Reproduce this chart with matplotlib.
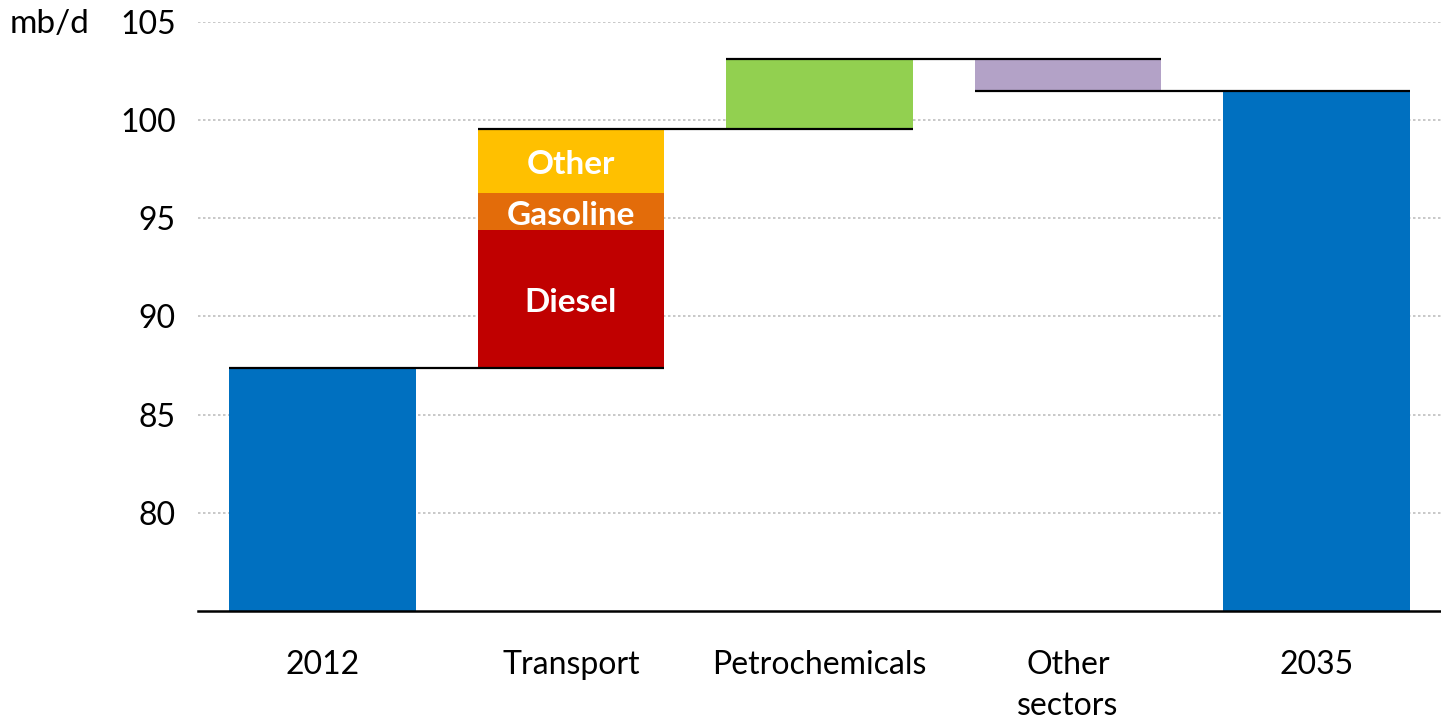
import matplotlib
matplotlib.use("Agg")
import matplotlib.pyplot as plt

plt.rcParams['font.family'] = ['Lato', 'DejaVu Sans']

# data (mb/d)
categories = ["2012", "Transport", "Petrochemicals", "Other\nsectors", "2035"]
start_2012 = 87.4
transport_parts = ["Diesel", "Gasoline", "Other"]
transport_vals = [7.0, 1.9, 3.27]
petrochem = 3.53
other_sectors = -1.6
end_2035 = 101.53

col_blue = '#0070C0'
transport_cols = ['#C00000', '#E36C0A', '#FFC000']
col_petro = '#92D050'
col_other = '#B3A2C7'

fig = plt.figure(figsize=(14.41, 7.21), dpi=100)
ax = fig.add_axes([0.1374, 0.1526, 0.8626, 0.8169])

w = 0.75
x = range(len(categories))
ymin = 75

# totals
ax.bar(0, start_2012 - ymin, bottom=ymin, width=w, color=col_blue, zorder=2)
ax.bar(4, end_2035 - ymin, bottom=ymin, width=w, color=col_blue, zorder=2)

# transport stack
base = start_2012
for name, v, c in zip(transport_parts, transport_vals, transport_cols):
    ax.bar(1, v, bottom=base, width=w, color=c, zorder=2)
    ax.text(1, base + v / 2 - 0.2, name, ha='center', va='center', color='white',
            fontsize=24, fontweight='bold', zorder=3)
    base += v
after_transport = base

ax.bar(2, petrochem, bottom=after_transport, width=w, color=col_petro, zorder=2)
after_petro = after_transport + petrochem
ax.bar(3, other_sectors, bottom=after_petro, width=w, color=col_other, zorder=2)
after_other = after_petro + other_sectors

# connector lines
levels = [start_2012, after_transport, after_petro, after_other]
for i, lv in enumerate(levels):
    ax.plot([i - w / 2, i + 1 + w / 2], [lv, lv], color='black', lw=1.6,
            zorder=4, solid_capstyle='butt')

ax.set_xlim(-0.5, 4.5)
ax.set_ylim(ymin, 105)
ax.set_yticks([80, 85, 90, 95, 100, 105])
ax.set_xticks(list(x))
ax.set_xticklabels(categories, fontsize=23, linespacing=1.45)
ax.tick_params(axis='y', labelsize=23, length=0, pad=16)
ax.tick_params(axis='x', length=0, pad=28)
for lbl in ax.get_xticklabels():
    lbl.set_verticalalignment('top')

ax.yaxis.grid(True, color='#BFBFBF', linestyle=(0, (1.5, 1.5)), lw=1.2, zorder=0)
ax.set_axisbelow(True)
for s in ['left', 'right', 'top']:
    ax.spines[s].set_visible(False)
ax.spines['bottom'].set_linewidth(1.8)
ax.spines['bottom'].set_zorder(5)

fig.text(0.007, 0.967, "mb/d", fontsize=24, ha='left', va='center')

fig.savefig("out.png", dpi=100)
